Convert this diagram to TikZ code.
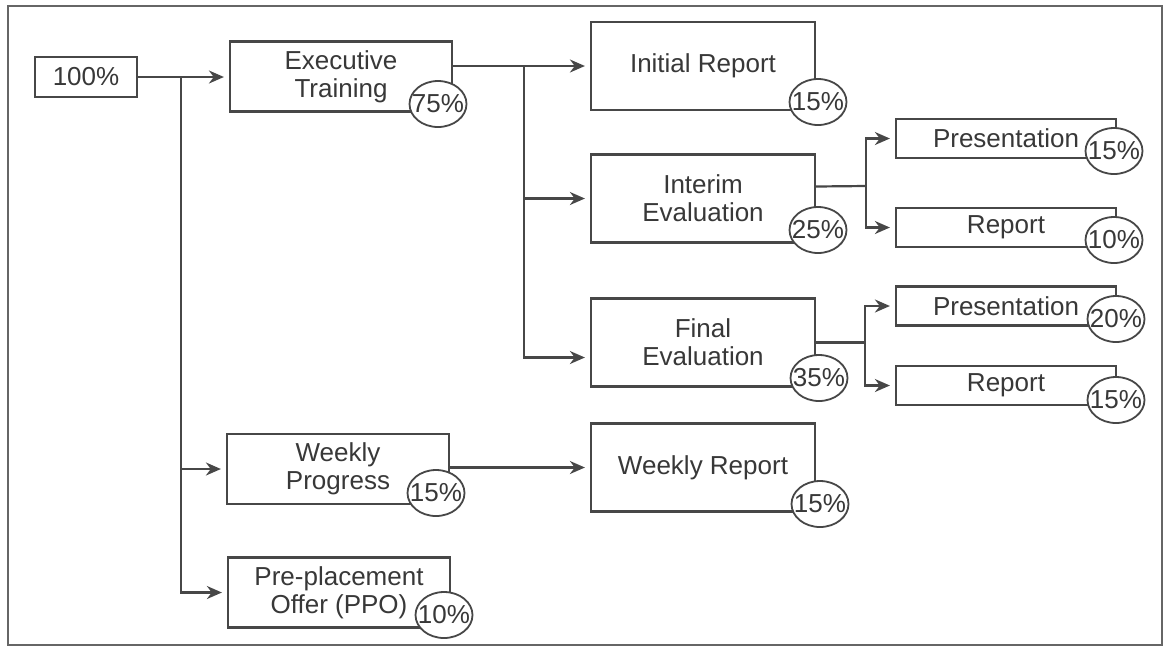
\documentclass[tikz,border=0pt]{standalone}
\usepackage{fontspec}
\setmainfont{Liberation Sans}
\usetikzlibrary{arrows.meta,shapes.geometric}

\begin{document}
\begin{tikzpicture}[
  x=1pt, y=-1pt,
  >={Stealth[length=15pt,width=13pt]},
  font=\fontsize{26}{28}\selectfont,
  box/.style={draw=black!72, line width=2.2pt, fill=white, text=black!78,
              align=center, inner sep=0pt},
  startbox/.style={box, minimum width=102pt, minimum height=40pt},
  midbox/.style={box, minimum width=222pt, minimum height=70pt},
  bigbox/.style={box, minimum width=224pt, minimum height=88pt},
  smallbox/.style={box, minimum width=220pt, minimum height=39pt},
  pct/.style={ellipse, draw=black!72, line width=1.8pt, fill=white, text=black!78,
              minimum width=57pt, minimum height=46pt, inner xsep=-8pt, inner ysep=-8pt},
  conn/.style={draw=black!72, line width=2.2pt},
  arr/.style={conn, ->, shorten >=5pt}
]
\useasboundingbox (0,0) rectangle (1166,649);

%% Outer frame
\draw[black!60, line width=1.8pt] (8,6) rectangle (1162,645);

%% Left column
\node[startbox] (total)    at (86,77)    {100\%};
\node[midbox]   (exec)     at (341,76.5) {Executive\\Training};
\node[midbox]   (weekprog) at (338,469)  {Weekly\\Progress};
\node[midbox]   (ppo)      at (339,592.5) {Pre-placement\\Offer (PPO)};

%% Middle column
\node[bigbox] (initrep) at (703,66)    {Initial Report};
\node[bigbox] (interim) at (703,198.5) {Interim\\Evaluation};
\node[bigbox] (final)   at (703,342.5) {Final\\Evaluation};
\node[bigbox] (weekrep) at (703,467.5) {Weekly Report};

%% Right column
\node[smallbox] (pres1) at (1006,138.5) {Presentation};
\node[smallbox] (rep1)  at (1006,227.5) {Report};
\node[smallbox] (pres2) at (1006,306)   {Presentation};
\node[smallbox] (rep2)  at (1006,385.5) {Report};

%% Weights
\node[pct] (c75)  at (438,104)  {75\%};
\node[pct] (c15a) at (818,102)  {15\%};
\node[pct] (c25)  at (818,230)  {25\%};
\node[pct] (c35)  at (819,378)  {35\%};
\node[pct] (c15b) at (1114,151) {15\%};
\node[pct] (c10a) at (1114,240) {10\%};
\node[pct] (c20)  at (1116,319) {20\%};
\node[pct] (c15c) at (1116,400) {15\%};
\node[pct] (c15d) at (436,493)  {15\%};
\node[pct] (c15e) at (820,504)  {15\%};
\node[pct] (c10b) at (444,615)  {10\%};

%% Split points
\coordinate (split1) at (181,77);
\coordinate (split2) at (524,66);
\coordinate (split3) at (866,186);
\coordinate (split4) at (865,342.5);

%% 100% -> components
\draw[arr] (total.east) -- (total.east -| exec.west);
\draw[arr] (split1) |- (weekprog.west);
\draw[arr] (split1) |- (ppo.west);

%% Executive Training -> reports
\draw[conn] (exec.east |- split2) -- (split2);
\draw[arr] (split2) -- (initrep.west);
\draw[arr] (split2) |- (interim.west);
\draw[arr] (split2) |- ([yshift=-15pt]final.west);

%% Interim Evaluation -> parts
\draw[conn] ([yshift=12pt]interim.east) -- (split3);
\draw[arr] (split3) |- (pres1.west);
\draw[arr] (split3) |- (rep1.west);

%% Final Evaluation -> parts
\draw[conn] (final.east) -- (split4);
\draw[arr] (split4) |- (pres2.west);
\draw[arr] (split4) |- (rep2.west);

%% Weekly Progress -> Weekly Report
\draw[arr] (weekprog.east |- weekrep.west) -- (weekrep.west);

\end{tikzpicture}
\end{document}
